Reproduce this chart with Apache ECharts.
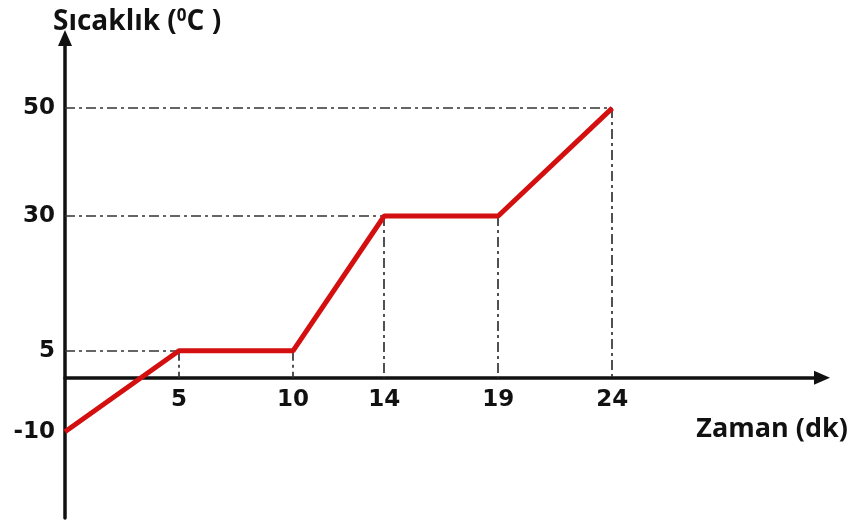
<!DOCTYPE html>
<html><head><meta charset="utf-8">
<script src="https://cdn.jsdelivr.net/npm/echarts@6/dist/echarts.min.js"></script>
<style>html,body{margin:0;padding:0;background:#fff}#c{width:855px;height:527px}</style>
</head><body><div id="c"></div>
<script>
const timeValues = [0, 5, 10, 14, 19, 24];
const tempValues = [-10, 5, 5, 30, 30, 50];
const xTickLabels = [5, 10, 14, 19, 24];
const yTickLabels = [-10, 5, 30, 50];

const yMin = -26, yMax = 63;
const gridTop = 38, gridBottom = 9, gridH = 527 - gridTop - gridBottom;
const xAxisOffset = -gridH * (0 - yMin) / (yMax - yMin);

const pts = timeValues.map((t, i) => [t, tempValues[i]]);
const guide = { type: [10, 4, 3, 4], color: '#333', width: 1.7 };
const mlData = [];
const seenY = new Set();
pts.forEach(([x, y]) => {
  if (y > 0 && !seenY.has(y)) { seenY.add(y); mlData.push([{ coord: [0, y] }, { coord: [x, y] }]); }
});
pts.forEach(([x, y]) => { if (x > 0) mlData.push([{ coord: [x, y] }, { coord: [x, 0] }]); });

const chart = echarts.init(document.getElementById('c'));
const font = '"Open Sans", "DejaVu Sans", sans-serif';
const tickFont = '"DejaVu Sans", sans-serif';
chart.setOption({
  animation: false,
  title: [
    { text: 'Sıcaklık ({s|0}C )', left: 48, top: 3,
      textStyle: { fontFamily: font, fontWeight: 'bold', fontSize: 28, color: '#111',
        rich: { s: { fontFamily: font, fontWeight: 'bold', fontSize: 17, verticalAlign: 'top', padding: [0, 0, 12, 0], color: '#111' } } } },
    { text: 'Zaman (dk)', right: 2, top: 411,
      textStyle: { fontFamily: font, fontWeight: 'bold', fontSize: 27, color: '#111' } }
  ],
  grid: { left: 65, right: 33, top: gridTop, bottom: gridBottom, containLabel: false, outerBoundsMode: 'none' },
  xAxis: {
    type: 'value', min: 0, max: 33.2, offset: xAxisOffset,
    axisLine: { onZero: false, symbol: ['none', 'triangle'], symbolSize: [14, 16], lineStyle: { color: '#111', width: 3.5 } },
    axisTick: { show: false },
    splitLine: { show: false },
    axisLabel: { customValues: xTickLabels, margin: 11, fontFamily: tickFont, fontWeight: 'bold', fontSize: 23, color: '#111' }
  },
  yAxis: {
    type: 'value', min: yMin, max: yMax,
    axisLine: { show: true, onZero: false, symbol: ['none', 'triangle'], symbolSize: [14, 16], lineStyle: { color: '#111', width: 3.5 } },
    axisTick: { show: false },
    splitLine: { show: false },
    axisLabel: { customValues: yTickLabels, margin: 10, fontFamily: tickFont, fontWeight: 'bold', fontSize: 23, color: '#111' }
  },
  series: [{
    type: 'line', data: pts, showSymbol: false, z: 5,
    lineStyle: { color: '#d40f0f', width: 5 },
    markLine: { silent: true, symbol: ['none', 'none'], label: { show: false }, lineStyle: guide, z: 1, data: mlData }
  }]
});
</script></body></html>
